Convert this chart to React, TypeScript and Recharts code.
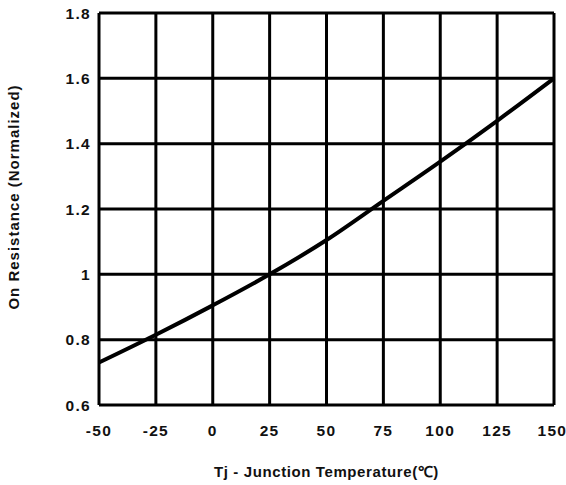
import React from 'react'
import { LineChart, Line, XAxis, YAxis, CartesianGrid, Label } from 'recharts'

const temps = [-50, -25, 0, 25, 50, 75, 100, 125, 150]
const onResistance = [0.73, 0.815, 0.905, 1.0, 1.105, 1.225, 1.345, 1.47, 1.6]
const xTicks = [-50, -25, 0, 25, 50, 75, 100, 125, 150]
const yTicks = [0.6, 0.8, 1, 1.2, 1.4, 1.6, 1.8]

const chartData = temps.map((t, i) => ({ t, r: onResistance[i] }))

const tickStyle = {
  fontFamily: '"Liberation Sans", Arial, sans-serif',
  fontSize: 15.5,
  fontWeight: 'bold' as const,
  fill: '#111',
  letterSpacing: 1.3,
}

export default function App() {
  return (
    <div style={{ position: 'absolute', left: 0, top: 0, background: '#fff' }}>
      <LineChart
        width={566}
        height={485}
        data={chartData}
        margin={{ top: 13, right: 12, left: 0, bottom: 0 }}
      >
        <CartesianGrid stroke="#000" strokeWidth={3} />
        <XAxis
          dataKey="t"
          type="number"
          domain={[-50, 150]}
          ticks={xTicks}
          axisLine={false}
          tickLine={false}
          tickMargin={14}
          height={80}
          tick={tickStyle}
        >
          <Label
            value="Tj - Junction Temperature(℃)"
            position="insideBottom"
            offset={8}
            style={{ ...tickStyle, fontSize: 15, letterSpacing: 0.6 }}
          />
        </XAxis>
        <YAxis
          type="number"
          domain={[0.6, 1.8]}
          ticks={yTicks}
          axisLine={false}
          tickLine={false}
          width={99}
          tick={tickStyle}
        >
          <Label
            content={() => (
              <text
                x={19}
                y={197}
                transform="rotate(-90, 19, 197)"
                textAnchor="middle"
                style={{ ...tickStyle, fontSize: 15, letterSpacing: 1 }}
              >
                On Resistance (Normalized)
              </text>
            )}
          />
        </YAxis>
        <Line
          type="monotone"
          dataKey="r"
          stroke="#000"
          strokeWidth={4}
          dot={false}
          isAnimationActive={false}
        />
      </LineChart>
    </div>
  )
}
